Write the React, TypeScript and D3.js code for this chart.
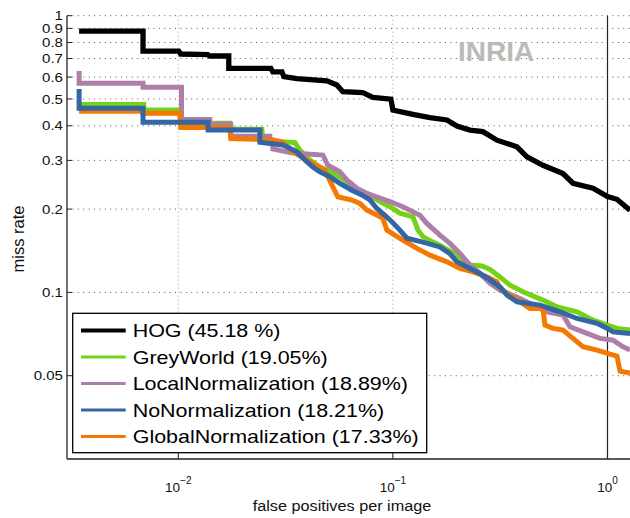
import React from 'react';
import * as d3 from 'd3';

// ---- axis limits & ticks ----
const xDomain = [0.00303, 1.273];
const yDomain = [0.025, 1];
const yTickValues = [0.05, 0.1, 0.2, 0.3, 0.4, 0.5, 0.6, 0.7, 0.8, 0.9, 1];
const yTickLabels = ['0.05', '0.1', '0.2', '0.3', '0.4', '0.5', '0.6', '0.7', '0.8', '0.9', '1'];
const xTickValues = [0.01, 0.1, 1];
const xTickExponents = ['\u22122', '\u22121', '0'];
const referenceFppi = 1;

// ---- series ----
const seriesNames = [
  'HOG (45.18 %)',
  'GreyWorld (19.05%)',
  'LocalNormalization (18.89%)',
  'NoNormalization (18.21%)',
  'GlobalNormalization (17.33%)',
];
const seriesColors = ['#000000', '#73d216', '#ad7fa8', '#3465a4', '#f57900'];

// [false positives per image, miss rate]
const hogCurve = [
  [0.00345, 0.88], [0.00685, 0.88], [0.00685, 0.745], [0.01005, 0.745], [0.01027, 0.727],
  [0.01372, 0.724], [0.01402, 0.715], [0.01719, 0.715], [0.01719, 0.645], [0.027, 0.645],
  [0.02758, 0.627], [0.0304, 0.627], [0.03103, 0.602], [0.0357, 0.592], [0.04925, 0.582],
  [0.05482, 0.562], [0.05846, 0.531], [0.07246, 0.527], [0.08067, 0.507], [0.09788, 0.499],
  [0.1, 0.456], [0.124, 0.44], [0.1488, 0.428], [0.1786, 0.42], [0.1988, 0.399],
  [0.2286, 0.386], [0.2628, 0.381], [0.3054, 0.355], [0.3785, 0.336], [0.4215, 0.309],
  [0.5004, 0.288], [0.6201, 0.269], [0.6905, 0.248], [0.8557, 0.238], [1.0, 0.222],
  [1.107, 0.217], [1.273, 0.198],
];
const greyWorldCurve = [
  [0.00345, 0.4775], [0.0069, 0.4775], [0.0069, 0.456], [0.01027, 0.456], [0.01027, 0.409],
  [0.01738, 0.409], [0.01757, 0.389], [0.02451, 0.389], [0.02477, 0.352], [0.03492, 0.348],
  [0.03685, 0.327], [0.04102, 0.301], [0.04567, 0.284], [0.05252, 0.27], [0.05973, 0.255],
  [0.06795, 0.236], [0.07564, 0.228], [0.08697, 0.213], [0.09683, 0.204], [0.1078, 0.1935],
  [0.124, 0.1876], [0.1308, 0.168], [0.138, 0.159], [0.1537, 0.152], [0.171, 0.146],
  [0.1988, 0.1364], [0.2286, 0.1255], [0.26, 0.1245], [0.2834, 0.121], [0.3153, 0.1138],
  [0.3511, 0.1062], [0.4037, 0.1005], [0.5004, 0.0938], [0.5814, 0.0887], [0.7208, 0.0851],
  [0.8557, 0.0794], [1.0, 0.0762], [1.107, 0.0741], [1.273, 0.0731],
];
const localNormCurve = [
  [0.00345, 0.631], [0.00345, 0.57], [0.00685, 0.57], [0.00685, 0.551], [0.01035, 0.551],
  [0.01035, 0.422], [0.01402, 0.422], [0.01402, 0.405], [0.01757, 0.405], [0.01757, 0.367],
  [0.02671, 0.367], [0.02671, 0.355], [0.02758, 0.355], [0.02758, 0.33], [0.03418, 0.319],
  [0.04717, 0.3136], [0.04977, 0.288], [0.05661, 0.273], [0.06102, 0.255], [0.06795, 0.238],
  [0.07564, 0.228], [0.08697, 0.219], [0.09683, 0.213], [0.1113, 0.204], [0.1336, 0.19],
  [0.144, 0.1776], [0.1656, 0.161], [0.1844, 0.1504], [0.2053, 0.1384], [0.2286, 0.1255],
  [0.2544, 0.1171], [0.2834, 0.1078], [0.3153, 0.1019], [0.3909, 0.0951], [0.4495, 0.09],
  [0.5222, 0.0851], [0.6201, 0.0828], [0.6687, 0.0751], [0.8025, 0.0711], [0.9227, 0.0682],
  [1.061, 0.0672], [1.181, 0.0636], [1.273, 0.0619],
];
const noNormCurve = [
  [0.00345, 0.543], [0.00345, 0.463], [0.00685, 0.463], [0.00685, 0.412], [0.01377, 0.412],
  [0.01377, 0.386], [0.024, 0.386], [0.024, 0.349], [0.0307, 0.341], [0.0331, 0.332],
  [0.0357, 0.322], [0.03888, 0.301], [0.04236, 0.284], [0.04567, 0.273], [0.05085, 0.262],
  [0.05661, 0.248], [0.06439, 0.234], [0.07169, 0.225], [0.07812, 0.216], [0.08421, 0.201],
  [0.09177, 0.19], [0.0989, 0.18], [0.1078, 0.168], [0.1162, 0.157], [0.138, 0.152],
  [0.1656, 0.146], [0.1844, 0.138], [0.1988, 0.129], [0.2286, 0.122], [0.2544, 0.117],
  [0.2834, 0.111], [0.3153, 0.1047], [0.34, 0.0978], [0.3785, 0.0925], [0.4845, 0.09],
  [0.6005, 0.0851], [0.7208, 0.0805], [0.8933, 0.0773], [1.0, 0.0741], [1.061, 0.072],
  [1.273, 0.0711],
];
const globalNormCurve = [
  [0.00345, 0.452], [0.00685, 0.452], [0.00685, 0.4437], [0.01016, 0.4437], [0.01027, 0.3947],
  [0.01738, 0.3947], [0.01757, 0.36], [0.02451, 0.3567], [0.02758, 0.3553], [0.0304, 0.3503],
  [0.03103, 0.3457], [0.03418, 0.3223], [0.04102, 0.2965], [0.0482, 0.2767], [0.05252, 0.2408],
  [0.05541, 0.2216], [0.06439, 0.2157], [0.07017, 0.2098], [0.07564, 0.1984], [0.08421, 0.1903],
  [0.08981, 0.1851], [0.09376, 0.168], [0.1078, 0.1568], [0.1294, 0.1442], [0.1488, 0.1364],
  [0.1786, 0.129], [0.2053, 0.1221], [0.236, 0.1187], [0.2743, 0.1138], [0.3054, 0.1092],
  [0.3153, 0.1036], [0.3511, 0.0978], [0.4352, 0.0875], [0.5004, 0.0875], [0.511, 0.0762],
  [0.5569, 0.0741], [0.6201, 0.0731], [0.6905, 0.0682], [0.7688, 0.0636], [0.8933, 0.0619],
  [1.0, 0.0602], [1.107, 0.0588], [1.144, 0.0519], [1.273, 0.0511],
];

const seriesCurves = [hogCurve, greyWorldCurve, localNormCurve, noNormCurve, globalNormCurve];
const drawOrder = [0, 1, 2, 4, 3];

const W = 630;
const H = 518;
const L = 67;
const R = 630;
const T = 15.7;
const B = 459;
const FONT = '"Liberation Sans", Arial, Helvetica, sans-serif';
const SX = 1.16;

export default function App() {
  const x = d3.scaleLog().domain(xDomain).range([L, R]);
  const y = d3.scaleLog().domain(yDomain).range([B, T]);
  const line = d3
    .line<number[]>()
    .x((d) => x(d[0]))
    .y((d) => y(d[1]));

  const legendX = 72.7;
  const legendY = 313.3;
  const rowH = 26.5;

  return (
    <svg
      width={W}
      height={H}
      style={{ position: 'absolute', left: 0, top: 0, background: '#fff' }}
      fontFamily={FONT}
    >
      <defs>
        <clipPath id="plotClip">
          <rect x={L} y={T - 3} width={R - L + 5} height={B - T + 3} />
        </clipPath>
      </defs>
      <rect x={0} y={0} width={W} height={H} fill="#fff" />

      {/* horizontal grid */}
      {yTickValues.map((v) => (
        <line
          key={'hg' + v}
          x1={L}
          x2={R}
          y1={y(v)}
          y2={y(v)}
          stroke="#555"
          strokeWidth={1}
          strokeDasharray="1 4.4"
        />
      ))}
      {/* vertical grid */}
      {xTickValues
        .filter((v) => v !== referenceFppi)
        .map((v) => (
          <line
            key={'vg' + v}
            x1={x(v)}
            x2={x(v)}
            y1={T}
            y2={B}
            stroke="#999"
            strokeWidth={1}
            strokeDasharray="1 3"
          />
        ))}

      {/* reference line at fppi = 1 */}
      <line x1={x(referenceFppi)} x2={x(referenceFppi)} y1={T} y2={B} stroke="#222" strokeWidth={1.2} />

      {/* curves */}
      <g clipPath="url(#plotClip)">
        {drawOrder.map((i) => (
          <path
            key={'c' + i}
            d={line(seriesCurves[i] as any) || ''}
            fill="none"
            stroke={seriesColors[i]}
            strokeWidth={i === 0 ? 5.3 : 5}
            strokeLinejoin="miter"
            strokeLinecap="butt"
          />
        ))}
      </g>

      {/* axes */}
      <line x1={L} x2={L} y1={T} y2={B} stroke="#222" strokeWidth={1.3} />
      <line x1={L} x2={R} y1={B} y2={B} stroke="#222" strokeWidth={1.3} />
      {yTickValues.map((v, i) => (
        <g key={'yt' + v}>
          <line x1={L} x2={L + 5} y1={y(v)} y2={y(v)} stroke="#222" strokeWidth={1} />
          <text
            transform={`translate(${L - 4},${y(v) + 4.6}) scale(${SX},1)`}
            textAnchor="end"
            fontSize={13}
            fill="#111"
          >
            {yTickLabels[i]}
          </text>
        </g>
      ))}
      {xTickValues.map((v, i) => (
        <g key={'xt' + v}>
          <line x1={x(v)} x2={x(v)} y1={B} y2={B - 7} stroke="#222" strokeWidth={1} />
          <text x={x(v)} y={491.5} textAnchor="middle" fontSize={13.5} fill="#111">
            <tspan>10</tspan>
            <tspan dy={-8} fontSize={10}>
              {xTickExponents[i]}
            </tspan>
          </text>
        </g>
      ))}

      {/* axis labels */}
      <text
        transform={`translate(${342},${510.5}) scale(${SX},1)`}
        textAnchor="middle"
        fontSize={14}
        fill="#111"
      >
        false positives per image
      </text>
      <text
        transform={`translate(${23.5},${239}) rotate(-90)`}
        textAnchor="middle"
        fontSize={16.5}
        fill="#111"
      >
        miss rate
      </text>

      {/* INRIA label */}
      <text x={458} y={60.5} fontSize={28} fontWeight="bold" fill="#babbb5">
        INRIA
      </text>

      {/* legend */}
      <rect x={legendX} y={legendY} width={354} height={139.4} fill="#fff" stroke="#000" strokeWidth={1.3} />
      {seriesNames.map((name, i) => {
        const cy = legendY + 17.2 + i * rowH;
        return (
          <g key={'lg' + i}>
            <line
              x1={81}
              x2={125.7}
              y1={cy}
              y2={cy}
              stroke={seriesColors[i]}
              strokeWidth={i === 0 ? 4 : 3}
            />
            <text
              transform={`translate(${132.7},${cy + 6.7}) scale(${SX},1)`}
              fontSize={18.5}
              fill="#000"
            >
              {name}
            </text>
          </g>
        );
      })}
    </svg>
  );
}
